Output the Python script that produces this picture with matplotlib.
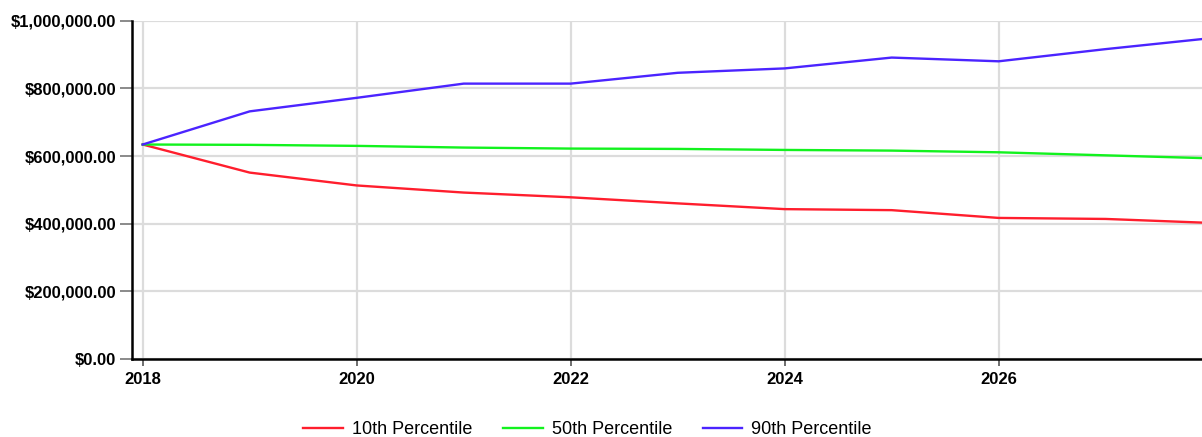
import matplotlib
matplotlib.use("Agg")
import matplotlib.pyplot as plt
from matplotlib.ticker import FuncFormatter, MultipleLocator

plt.rcParams["font.family"] = ["Liberation Sans", "DejaVu Sans"]

years = [2018, 2019, 2020, 2021, 2022, 2023, 2024, 2025, 2026, 2027, 2028]
p10 = [634000, 551000, 513000, 492000, 478000, 460000, 443000, 440000, 417000, 414000, 402000]
p50 = [634000, 633000, 630000, 625000, 622000, 621000, 618000, 616000, 611000, 602000, 593000]
p90 = [634000, 732000, 772000, 814000, 814000, 846000, 859000, 891000, 880000, 916000, 949000]

labels = ["10th Percentile", "50th Percentile", "90th Percentile"]
colors = ["#ff1e2d", "#12f21e", "#4b24ff"]

fig = plt.figure(figsize=(12.02, 4.37), dpi=100)
ax = fig.add_axes([131.7 / 1202, 78 / 437, 1 - 131.7 / 1202, (359 - 20.7) / 437])

for vals, lab, col in zip([p10, p50, p90], labels, colors):
    ax.plot(years, vals, color=col, lw=1.7, label=lab)

ax.set_xlim(2018 - 11 / 107, 2018 + (1202 - 142.7) / 107)
ax.set_ylim(0, 1000000)
ax.xaxis.set_major_locator(MultipleLocator(2))
ax.yaxis.set_major_locator(MultipleLocator(200000))
ax.yaxis.set_major_formatter(FuncFormatter(lambda v, p: f"${v:,.2f}"))

ax.grid(True, color="#dcdcdc", lw=1.6)
ax.set_axisbelow(True)
for s in ["top", "right"]:
    ax.spines[s].set_visible(False)
for s in ["left", "bottom"]:
    ax.spines[s].set_linewidth(1.8)
    ax.spines[s].set_color("black")

ax.tick_params(axis="y", length=9, width=1.2, color="#777777", pad=2, labelsize=12)
ax.tick_params(axis="x", length=5, width=1.2, color="#555555", pad=4, labelsize=12)
for t in ax.get_xticklabels() + ax.get_yticklabels():
    t.set_fontweight("bold")

fig.legend(loc="center", bbox_to_anchor=(0.4888, 1 - 430 / 437), ncol=3,
           frameon=False, fontsize=13, handlelength=2.2, handletextpad=0.5,
           columnspacing=1.7)

fig.savefig("out.png", dpi=100)
